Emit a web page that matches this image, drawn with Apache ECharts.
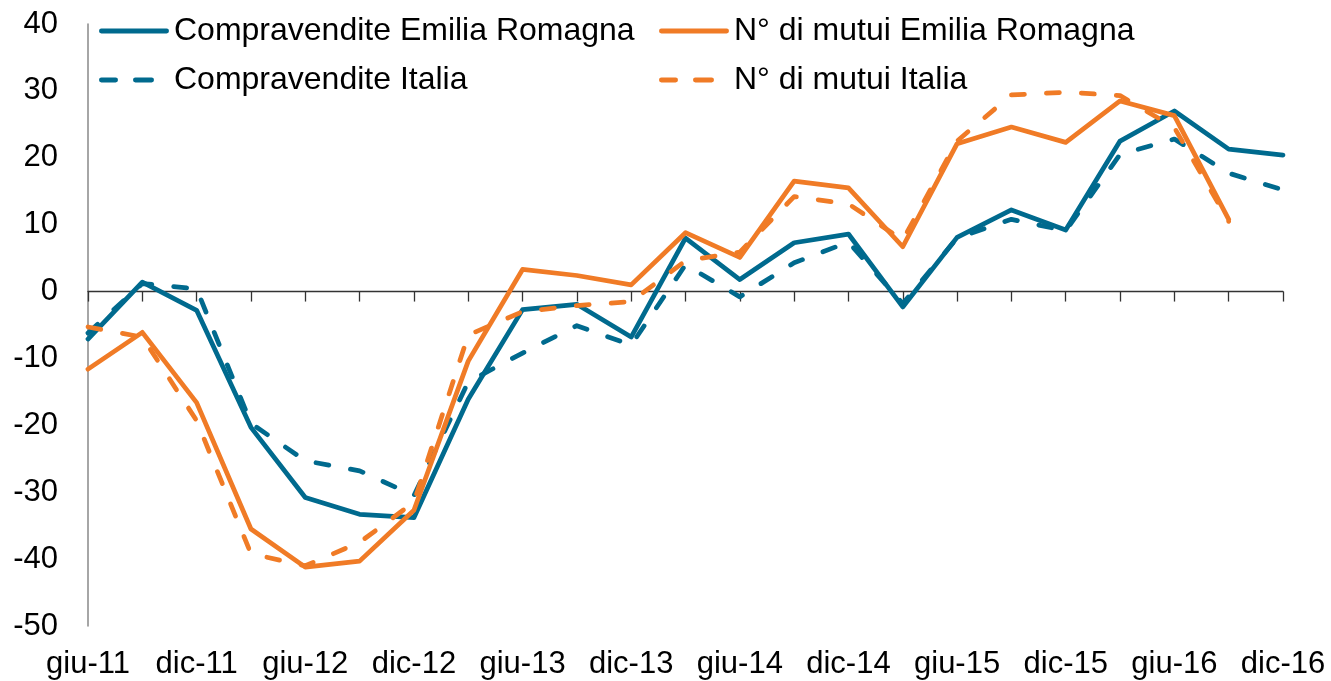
<!DOCTYPE html>
<html>
<head>
<meta charset="utf-8">
<script src="https://cdn.jsdelivr.net/npm/echarts@6/dist/echarts.min.js"></script>
<style>
  html, body { margin: 0; padding: 0; background: #ffffff; }
  #chart { width: 1331px; height: 681px; }
</style>
</head>
<body>
<div id="chart"></div>
<script>
// ---- Data ----
const categories = ['giu-11','set-11','dic-11','mar-12','giu-12','set-12','dic-12','mar-13','giu-13','set-13','dic-13','mar-14','giu-14','set-14','dic-14','mar-15','giu-15','set-15','dic-15','mar-16','giu-16','set-16','dic-16'];
const seriesNames = ['Compravendite Emilia Romagna','N° di mutui Emilia Romagna','Compravendite Italia','N° di mutui Italia'];
const compravenditeER = [-7.1, 1.4, -2.8, -20.3, -30.8, -33.3, -33.8, -16.1, -2.7, -1.9, -6.8, 8.0, 1.8, 7.3, 8.6, -2.3, 8.1, 12.2, 9.2, 22.5, 27.0, 21.3, 20.4];
const compravenditeIT = [-6.2, 1.2, 0.4, -19.7, -25.3, -26.8, -30.5, -13.5, -9.2, -5.1, -8.0, 4.0, -0.8, 4.3, 7.4, -1.8, 8.0, 10.8, 9.1, 20.5, 22.8, 17.7, 15.2];
const mutuiER = [-11.6, -6.1, -16.6, -35.5, -41.2, -40.3, -32.7, -10.4, 3.3, 2.4, 1.0, 8.8, 5.1, 16.5, 15.5, 6.7, 22.1, 24.6, 22.3, 28.5, 26.3, 10.8, null];
const mutuiIT = [-5.3, -6.8, -19.3, -39.2, -41.0, -37.5, -31.5, -6.5, -3.0, -2.1, -1.5, 4.6, 5.9, 14.2, 13.1, 7.7, 22.5, 29.4, 29.8, 29.3, 24.5, 10.5, null];

// ---- Styles ----
const TEAL = '#006A8E';
const ORANGE = '#F07B26';
const FONT = "'Liberation Sans', Arial, sans-serif";
const DASH = [13, 22];
const LW = 4.75;

// legend icons: rounded bars (solid 70px long, dashed = two dashes)
const ICON_SOLID = 'path://M2.4,0H67.6A2.4,2.4,0,0,1,67.6,4.8H2.4A2.4,2.4,0,0,1,2.4,0Z';
const ICON_DASH = 'path://M2.4,0H16.6A2.4,2.4,0,0,1,16.6,4.8H2.4A2.4,2.4,0,0,1,2.4,0Z M36.4,0H52.6A2.4,2.4,0,0,1,52.6,4.8H36.4A2.4,2.4,0,0,1,36.4,0Z';

function lineSeries(name, data, color, dashed) {
  return {
    name: name,
    type: 'line',
    data: data,
    xAxisIndex: 0,
    yAxisIndex: 0,
    symbol: 'none',
    smooth: false,
    connectNulls: false,
    lineStyle: { color: color, width: LW, type: dashed ? DASH : 'solid', cap: 'round', join: 'round' },
    itemStyle: { color: color },
    emphasis: { disabled: true }
  };
}

function legendAt(name, left, top, color, dashed) {
  return {
    data: [{ name: name, icon: dashed ? ICON_DASH : ICON_SOLID, itemStyle: { color: color } }],
    left: left,
    top: top,
    padding: 0,
    itemWidth: dashed ? 55 : 70,
    itemHeight: 4.8,
    symbolKeepAspect: false,
    selectedMode: false,
    textStyle: { fontFamily: FONT, fontSize: 32, color: '#000000', padding: [0, 0, 0, dashed ? 15 : 0] }
  };
}

const chart = echarts.init(document.getElementById('chart'), null, { renderer: 'canvas' });
chart.setOption({
  animation: false,
  backgroundColor: '#ffffff',
  textStyle: { fontFamily: FONT },
  grid: { left: 88, right: 48, top: 24, bottom: 55, containLabel: false },
  legend: [
    legendAt(seriesNames[0], 99, 15, TEAL, false),
    legendAt(seriesNames[1], 659, 15, ORANGE, false),
    legendAt(seriesNames[2], 99, 64, TEAL, true),
    legendAt(seriesNames[3], 659, 64, ORANGE, true)
  ],
  xAxis: [
    {
      type: 'category',
      data: categories,
      boundaryGap: false,
      position: 'bottom',
      axisLine: { show: false, onZero: false },
      axisTick: { show: false },
      splitLine: { show: false },
      axisLabel: { interval: 1, fontFamily: FONT, fontSize: 31, color: '#000000', margin: 23 }
    },
    {
      type: 'category',
      data: categories,
      boundaryGap: false,
      position: 'bottom',
      axisLine: { show: true, onZero: true, lineStyle: { color: '#333333', width: 1.3 } },
      axisTick: { show: true, interval: 0, length: 10, inside: false, lineStyle: { color: '#333333', width: 1.3 } },
      splitLine: { show: false },
      axisLabel: { show: false }
    }
  ],
  yAxis: {
    type: 'value',
    min: -50,
    max: 40,
    interval: 10,
    axisLine: { show: true, lineStyle: { color: '#888888', width: 1.5 } },
    axisTick: { show: false },
    splitLine: { show: false },
    axisLabel: { fontFamily: FONT, fontSize: 31, color: '#000000', margin: 30 }
  },
  series: [
    lineSeries(seriesNames[2], compravenditeIT, TEAL, true),
    lineSeries(seriesNames[0], compravenditeER, TEAL, false),
    lineSeries(seriesNames[3], mutuiIT, ORANGE, true),
    lineSeries(seriesNames[1], mutuiER, ORANGE, false)
  ]
});
</script>
</body>
</html>
